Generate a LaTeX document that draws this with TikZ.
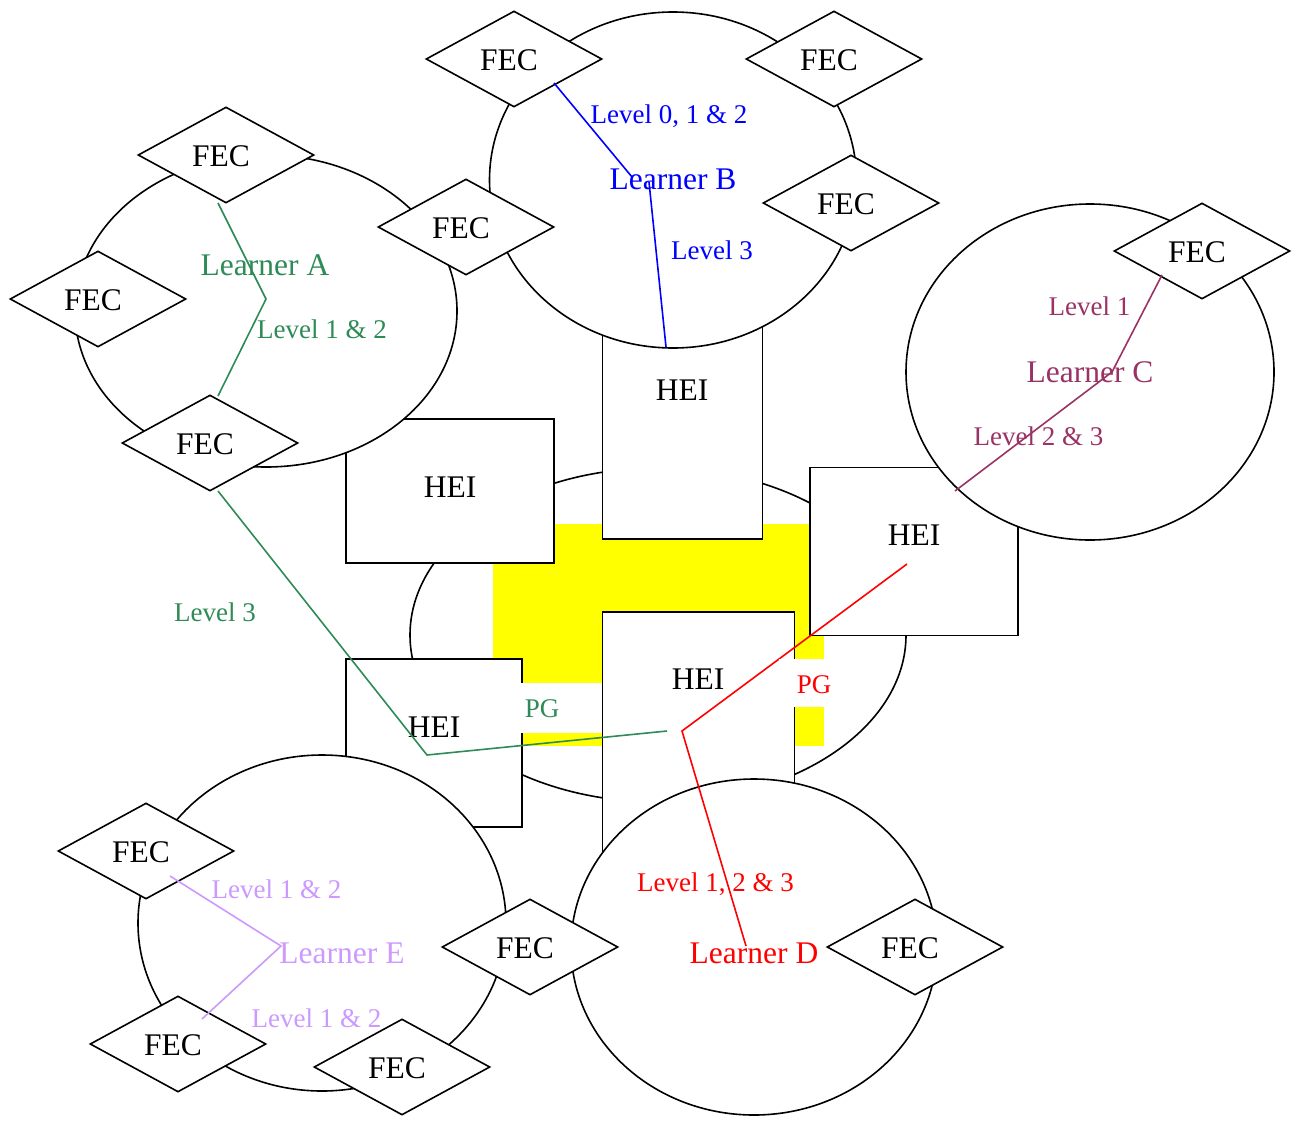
\documentclass[tikz,border=0pt]{standalone}
\usepackage{fontspec}
\setmainfont{Liberation Serif}
\usetikzlibrary{shapes.geometric}

\definecolor{lrnA}{HTML}{2E8B57}
\definecolor{lrnB}{HTML}{0000FF}
\definecolor{lrnC}{HTML}{993366}
\definecolor{lrnD}{HTML}{FF0000}
\definecolor{lrnE}{HTML}{CC99FF}
\definecolor{pgzone}{HTML}{FFFF00}

\begin{document}
\begin{tikzpicture}[x=1pt,y=-1pt,
  outline/.style={draw=black, line width=1.6pt, fill=white},
  bigfont/.style={font=\fontsize{31.5pt}{36pt}\selectfont},
  smallfont/.style={font=\fontsize{27pt}{31pt}\selectfont},
  fec/.style={outline, diamond, inner sep=0pt, minimum width=176pt, minimum height=96pt,
    label={[bigfont, xshift=-5pt, yshift=-1pt, inner sep=0pt]center:FEC}},
  hei/.style={outline, rectangle, inner sep=0pt},
  learner/.style={outline, ellipse, inner sep=0pt},
  bigtext/.style={bigfont, inner sep=0pt, anchor=base},
  lvltext/.style={smallfont, inner sep=0pt, anchor=base},
  link/.style={line width=1.6pt},
]
\useasboundingbox (0,0) rectangle (1295,1124);

% central learning space and its PG zone
\node[learner, minimum width=496pt, minimum height=334pt] (hub) at (658,635) {};
\fill[pgzone] (493,524) rectangle (824,746);

% higher education institutions
\node[hei, minimum width=160pt, minimum height=239pt] (heiT) at (682.5,419.5) {};
\node[hei, minimum width=208pt, minimum height=144pt] (heiL) at (450,491) {};
\node[hei, minimum width=208pt, minimum height=168pt] (heiR) at (914,551.5) {};
\node[hei, minimum width=192pt, minimum height=288pt] (heiC) at (698.5,756) {};
\node[hei, minimum width=176pt, minimum height=168pt] (heiBL) at (434,743) {};

% learners
\node[learner, minimum width=382pt, minimum height=312pt] (lA) at (266,311) {};
\node[learner, minimum width=367pt, minimum height=336pt] (lB) at (673,180) {};
\node[learner, minimum width=368pt, minimum height=336pt] (lC) at (1090,372) {};
\node[learner, minimum width=366pt, minimum height=336pt] (lD) at (754,947) {};
\node[learner, minimum width=368pt, minimum height=336pt] (lE) at (322,923) {};

% further education colleges
\node[fec] (fB1) at (514,59) {};
\node[fec] (fB2) at (834,59) {};
\node[fec] (fB3) at (851,203) {};
\node[fec] (fAB) at (466,227) {};
\node[fec] (fA1) at (226,155) {};
\node[fec] (fA2) at (98,299) {};
\node[fec] (fA3) at (210,443) {};
\node[fec] (fC1) at (1202,251) {};
\node[fec] (fE1) at (146,851) {};
\node[fec] (fE2) at (178,1044) {};
\node[fec] (fE3) at (402,1067) {};
\node[fec] (fDE) at (530,947) {};
\node[fec] (fD1) at (915,947) {};

% node captions
\node[bigtext, lrnA] (tA) at (265,275.3) {Learner A};
\node[bigtext, lrnB] (tB) at (673,189.5) {Learner B};
\node[bigtext, lrnC] (tC) at (1090,382) {Learner C};
\node[bigtext, lrnD] (tD) at (754,963.3) {Learner D};
\node[bigtext, lrnE] (tE) at (342,963.3) {Learner E};
\node[bigtext] (tHT) at (682,400.3) {HEI};
\node[bigtext] (tHL) at (450,497.3) {HEI};
\node[bigtext] (tHR) at (914,545.3) {HEI};
\node[bigtext] (tHC) at (698,689.3) {HEI};
\node[bigtext] (tHBL) at (434,737.3) {HEI};

% route points
\coordinate (a1) at (218,203);  \coordinate (a2) at (266,299);  \coordinate (a3) at (218,396);
\coordinate (a4) at (218,491);  \coordinate (a5) at (427,755);  \coordinate (a6) at (667,731);
\coordinate (b1) at (554,83);   \coordinate (b2) at (632,177);
\coordinate (b3) at (649,182);  \coordinate (b4) at (666,347);
\coordinate (c1) at (1162,275); \coordinate (c2) at (1112,372); \coordinate (c3) at (955,491);
\coordinate (d1) at (907,564);  \coordinate (d2) at (682,731);  \coordinate (d3) at (746,946);
\coordinate (e1) at (170,876);  \coordinate (e2) at (281,946);  \coordinate (e3) at (202,1019);

% learner pathways
\draw[link, lrnA] (a1) -- (a2) -- (a3);
\draw[link, lrnA] (a4) -- (a5) -- (a6);
\draw[link, lrnB] (b1) -- (b2);
\draw[link, lrnB] (b3) -- (b4);
\draw[link, lrnC] (c1) -- (c2) -- (c3);
\draw[link, lrnD] (d1) -- (d2) -- (d3);
\draw[link, lrnE] (e1) -- (e2) -- (e3);

% postgraduate markers
\fill[white] (521,683) rectangle (602,733);
\fill[white] (779,659) rectangle (850,707);
\node[lvltext, lrnA] (pgA) at (542,717) {PG};
\node[lvltext, lrnD] (pgD) at (814,693) {PG};

% pathway levels
\node[lvltext, lrnA] (lvA1) at (322,338.5) {Level 1 \& 2};
\node[lvltext, lrnA] (lvA2) at (215,621) {Level 3};
\node[lvltext, lrnB] (lvB1) at (669,123) {Level 0, 1 \& 2};
\node[lvltext, lrnB] (lvB2) at (712,259) {Level 3};
\node[lvltext, lrnC] (lvC1) at (1089.5,315) {Level 1};
\node[lvltext, lrnC] (lvC2) at (1038.5,445) {Level 2 \& 3};
\node[lvltext, lrnD] (lvD1) at (715.5,891) {Level 1, 2 \& 3};
\node[lvltext, lrnE] (lvE1) at (276.5,898) {Level 1 \& 2};
\node[lvltext, lrnE] (lvE2) at (316.5,1027) {Level 1 \& 2};
\end{tikzpicture}
\end{document}
